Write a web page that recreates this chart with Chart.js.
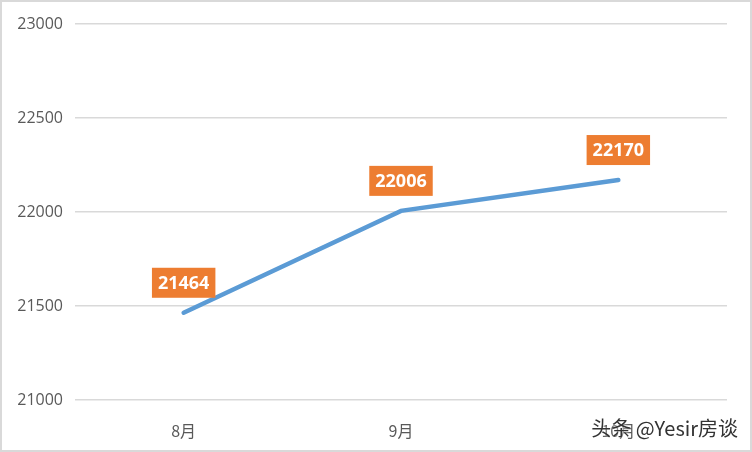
<!DOCTYPE html>
<html>
<head>
<meta charset="utf-8">
<script src="https://cdn.jsdelivr.net/npm/chart.js@4"></script>
<style>
  body { margin: 0; background: #fff; }
  #wrap { width: 752px; height: 452px; }
</style>
</head>
<body>
<div id="wrap"><canvas id="myChart"></canvas></div>
<script>
// data
var months = ['8月', '9月', '10月'];
var prices = [21464, 22006, 22170];
var yTicks = [21000, 21500, 22000, 22500, 23000];

var lineBlue = '#5B9BD5';
var labelOrange = '#ED7D31';

// orange boxes with the value above each point
var valueBoxes = {
    id: 'valueBoxes',
    afterDatasetsDraw: function (chart) {
        var ctx = chart.ctx;
        var meta = chart.getDatasetMeta(0);
        ctx.save();
        ctx.font = 'bold 18px "Open Sans", "Noto Sans", sans-serif';
        ctx.textAlign = 'center';
        ctx.textBaseline = 'middle';
        meta.data.forEach(function (pt, i) {
            var txt = String(prices[i]);
            var w = ctx.measureText(txt).width + 12;
            var h = 30;
            var cy = pt.y - 30;
            ctx.fillStyle = labelOrange;
            ctx.fillRect(pt.x - w / 2, cy - h / 2, w, h);
            ctx.fillStyle = '#fff';
            ctx.fillText(txt, pt.x, cy + 1);
        });
        ctx.restore();
    },
    afterDraw: function (chart) {
        var ctx = chart.ctx;
        ctx.save();
        // watermark
        ctx.font = '20px "Noto Sans CJK SC", sans-serif';
        ctx.textAlign = 'right';
        ctx.textBaseline = 'middle';
        ctx.shadowColor = 'rgba(255,255,255,0.9)';
        ctx.shadowBlur = 3;
        ctx.fillStyle = '#333';
        ctx.fillText('头条 @Yesir房谈', 738, 428);
        ctx.shadowBlur = 0;
        // outer border
        ctx.strokeStyle = '#d9d9d9';
        ctx.lineWidth = 2;
        ctx.strokeRect(1, 1, chart.width - 2, chart.height - 2);
        ctx.restore();
    }
};

var ctx = document.getElementById('myChart').getContext('2d');
var myChart = new Chart(ctx, {
    type: 'line',
    data: {
        labels: months,
        datasets: [{
            data: prices,
            borderColor: lineBlue,
            borderWidth: 4.5,
            borderCapStyle: 'round',
            pointRadius: 0,
            fill: false,
            tension: 0
        }]
    },
    options: {
        responsive: true,
        maintainAspectRatio: false,
        animation: false,
        layout: { padding: { top: 24, right: 25, left: 0, bottom: 0 } },
        plugins: {
            legend: { display: false },
            tooltip: { enabled: false }
        },
        scales: {
            x: {
                offset: true,
                grid: { display: false },
                border: { display: false },
                ticks: {
                    color: '#595959',
                    padding: 13,
                    font: { size: 16, family: '"Noto Sans CJK SC", sans-serif' }
                },
                afterFit: function (scale) { scale.height = 52; }
            },
            y: {
                min: 21000,
                max: 23000,
                afterBuildTicks: function (scale) {
                    scale.ticks = yTicks.map(function (v) { return { value: v }; });
                },
                grid: { color: '#d9d9d9', lineWidth: 1.5, drawTicks: false },
                border: { display: false },
                ticks: {
                    color: '#595959',
                    padding: 12,
                    font: { size: 16, family: '"Open Sans", sans-serif' },
                    callback: function (v) { return String(v); }
                },
                afterFit: function (scale) { scale.width = 75; }
            }
        }
    },
    plugins: [valueBoxes]
});
</script>
</body>
</html>
